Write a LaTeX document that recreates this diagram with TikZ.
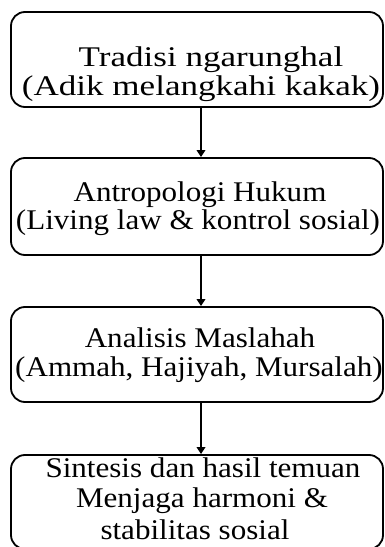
\documentclass[tikz,border=0pt]{standalone}
\usepackage{fontspec}
\usepackage{graphicx}
\setmainfont{Liberation Serif}
\usetikzlibrary{arrows.meta}
\begin{document}
\begin{tikzpicture}[x=1pt,y=1pt,
  box/.style={draw=black, line width=1.8pt, rounded corners=14pt, minimum width=372pt, inner sep=0pt},
  txt/.style={anchor=base, inner sep=0pt, font=\fontsize{28.5}{30}\selectfont},
  arr/.style={line width=1.8pt, -{Triangle[width=8.5pt,length=7pt]}}]
\useasboundingbox (0,0) rectangle (385,547);
\node[box, minimum height=95pt] (b1) at (197,487.5) {};
\node[box, minimum height=97pt] (b2) at (197,340.5) {};
\node[box, minimum height=95pt] (b3) at (197,192.5) {};
\node[box, minimum height=94pt] (b4) at (197,45) {};
\node[txt] (t1a) at (211,480) {\scalebox{1.23}[1]{Tradisi ngarunghal}};
\node[txt] (t1b) at (201,451) {\scalebox{1.23}[1]{(Adik melangkahi kakak)}};
\node[txt] (t2a) at (200,345) {\scalebox{1.09}[1]{Antropologi Hukum}};
\node[txt] (t2b) at (198,317) {\scalebox{1.09}[1]{(Living law \& kontrol sosial)}};
\node[txt] (t3a) at (200,199) {\scalebox{1.09}[1]{Analisis Maslahah}};
\node[txt] (t3b) at (199,170) {\scalebox{1.09}[1]{(Ammah, Hajiyah, Mursalah)}};
\node[txt] (t4a) at (203,69) {\scalebox{1.09}[1]{Sintesis dan hasil temuan}};
\node[txt] (t4b) at (202,39) {\scalebox{1.09}[1]{Menjaga harmoni \&}};
\node[txt] (t4c) at (195,7) {\scalebox{1.09}[1]{stabilitas sosial}};
\draw[arr] ([xshift=4pt]b1.south) -- ([xshift=4pt]b2.north);
\draw[arr] ([xshift=4pt]b2.south) -- ([xshift=4pt]b3.north);
\draw[arr] ([xshift=4pt]b3.south) -- ([xshift=4pt]b4.north);
\end{tikzpicture}
\end{document}
